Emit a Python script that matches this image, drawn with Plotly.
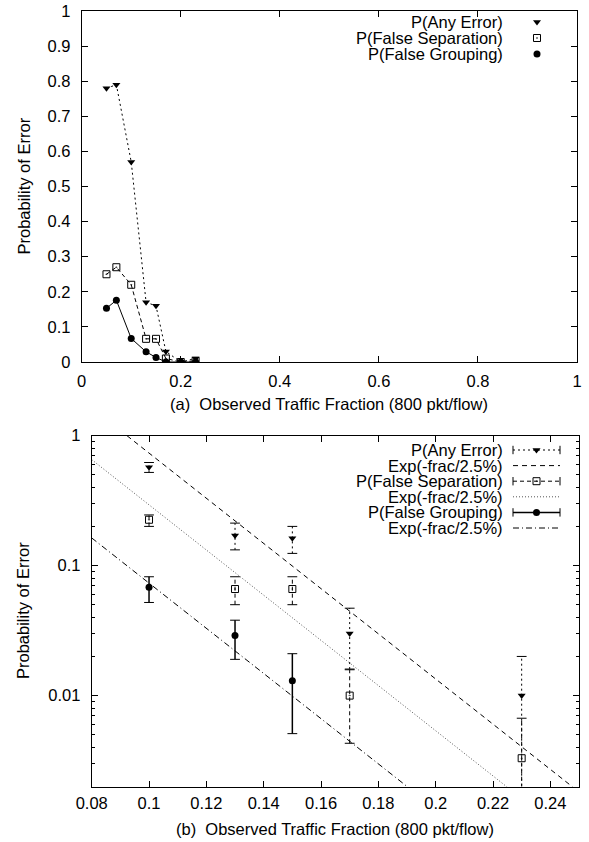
import math
import plotly.graph_objects as go

# ---------------- data: panel (a) ----------------
frac_a = [0.05, 0.07, 0.10, 0.13, 0.15, 0.17, 0.20, 0.23]
any_err_a = [0.78, 0.79, 0.57, 0.17, 0.16, 0.03, 0.0, 0.01]
false_sep_a = [0.25, 0.27, 0.22, 0.066, 0.066, 0.01, 0.0, 0.0033]
false_grp_a = [0.153, 0.176, 0.067, 0.029, 0.013, 0.0, 0.0, 0.0]

# ---------------- data: panel (b) ----------------
frac_any_b = [0.10, 0.13, 0.15, 0.17, 0.23]
any_err_b = [0.57, 0.17, 0.162, 0.03, 0.01]
any_err_lo = [0.52, 0.132, 0.124, 0.016, 0.0001]
any_err_hi = [0.62, 0.212, 0.20, 0.047, 0.02]

frac_sep_b = [0.10, 0.13, 0.15, 0.17, 0.23]
false_sep_b = [0.225, 0.066, 0.066, 0.01, 0.0033]
false_sep_lo = [0.20, 0.050, 0.050, 0.0043, 0.0001]
false_sep_hi = [0.245, 0.082, 0.082, 0.0158, 0.0067]

frac_grp_b = [0.10, 0.13, 0.15]
false_grp_b = [0.068, 0.029, 0.013]
false_grp_lo = [0.052, 0.019, 0.0051]
false_grp_hi = [0.082, 0.038, 0.021]

# exponential reference curves  A * exp(-frac / 2.5%)
fit_tau = 0.025
fit_amp_any = 40.0
fit_amp_sep = 16.0
fit_amp_grp = 4.0
fit_x = [0.08, 0.25]

legend_a = ["P(Any Error)", "P(False Separation)", "P(False Grouping)"]
legend_b = ["P(Any Error)", "Exp(-frac/2.5%)", "P(False Separation)",
            "Exp(-frac/2.5%)", "P(False Grouping)", "Exp(-frac/2.5%)"]

xlabel_a = "(a)\u00a0 Observed Traffic Fraction (800 pkt/flow)"
xlabel_b = "(b)\u00a0 Observed Traffic Fraction (800 pkt/flow)"
ylabel = "Probability of Error"

# ---------------- styling ----------------
FONT = "Liberation Sans, Arial, Helvetica, sans-serif"
FS = 16.5
W, H = 589, 842
BLACK = "black"
DOT = "2px,3px"
DASH = "4px,3px"
FIT_DASH = "5px,4px"
FIT_DOT = "1px,2px"
FIT_DASHDOT = "6px,3px,1px,3px"


def fx(p):
    """pixel -> paper fraction"""
    return p / W


def fy(p):
    return 1 - p / H


# frame positions (pixels)
A_L, A_R, A_T, A_B = 81.7, 577.0, 11.0, 362.0
B_L, B_R, B_T, B_B = 91.7, 579.0, 435.5, 786.5

fig = go.Figure()

# ---------- panel (a) ----------
fig.add_trace(go.Scatter(x=frac_a, y=any_err_a, mode="lines+markers", xaxis="x", yaxis="y",
                         line=dict(color=BLACK, width=1, dash=DOT),
                         marker=dict(symbol="triangle-down", size=7, color=BLACK),
                         showlegend=False))
fig.add_trace(go.Scatter(x=frac_a, y=false_sep_a, mode="lines+markers", xaxis="x", yaxis="y",
                         line=dict(color=BLACK, width=1, dash=DASH),
                         marker=dict(symbol="square-open-dot", size=7, color=BLACK,
                                     line=dict(width=1, color=BLACK)),
                         showlegend=False))
fig.add_trace(go.Scatter(x=frac_a, y=false_grp_a, mode="lines+markers", xaxis="x", yaxis="y",
                         line=dict(color=BLACK, width=1),
                         marker=dict(symbol="circle", size=7, color=BLACK),
                         showlegend=False))


# ---------- panel (b) ----------
def fit_curve(amp):
    return [amp * math.exp(-v / fit_tau) for v in fit_x]


fig.add_trace(go.Scatter(x=fit_x, y=fit_curve(fit_amp_any), mode="lines", xaxis="x2", yaxis="y2",
                         line=dict(color=BLACK, width=1, dash=FIT_DASH), showlegend=False))
fig.add_trace(go.Scatter(x=fit_x, y=fit_curve(fit_amp_sep), mode="lines", xaxis="x2", yaxis="y2",
                         line=dict(color="#555555", width=1, dash=FIT_DOT), showlegend=False))
fig.add_trace(go.Scatter(x=fit_x, y=fit_curve(fit_amp_grp), mode="lines", xaxis="x2", yaxis="y2",
                         line=dict(color=BLACK, width=1, dash=FIT_DASHDOT), showlegend=False))


def add_errorbars(xs, lo, hi, dash, width):
    sx, sy = [], []
    for x, a, b in zip(xs, lo, hi):
        sx += [x, x, None]
        sy += [a, b, None]
    fig.add_trace(go.Scatter(x=sx, y=sy, mode="lines", xaxis="x2", yaxis="y2",
                             line=dict(color=BLACK, width=width, dash=dash), showlegend=False))
    fig.add_trace(go.Scatter(x=list(xs) + list(xs), y=list(lo) + list(hi), mode="markers",
                             xaxis="x2", yaxis="y2",
                             marker=dict(symbol="line-ew", size=7,
                                         line=dict(width=1, color=BLACK)),
                             showlegend=False))


add_errorbars(frac_any_b, any_err_lo, any_err_hi, DOT, 1)
add_errorbars(frac_sep_b, false_sep_lo, false_sep_hi, DASH, 1)
add_errorbars(frac_grp_b, false_grp_lo, false_grp_hi, None, 1.5)

fig.add_trace(go.Scatter(x=frac_any_b, y=any_err_b, mode="markers", xaxis="x2", yaxis="y2",
                         marker=dict(symbol="triangle-down", size=7, color=BLACK), showlegend=False))
fig.add_trace(go.Scatter(x=frac_sep_b, y=false_sep_b, mode="markers", xaxis="x2", yaxis="y2",
                         marker=dict(symbol="square-open-dot", size=7, color=BLACK,
                                     line=dict(width=1, color=BLACK)), showlegend=False))
fig.add_trace(go.Scatter(x=frac_grp_b, y=false_grp_b, mode="markers", xaxis="x2", yaxis="y2",
                         marker=dict(symbol="circle", size=7, color=BLACK), showlegend=False))

# ---------- key (legend) drawn in pixel space on an overlay axis ----------
KEY_TEXT_R = 505
KEY_A_MARK = 537
KEY_A_ROWS = [22, 38, 54]
KEY_B_L, KEY_B_R = 513, 560
KEY_B_ROWS = [450 + 15.6 * i for i in range(6)]

key_a_markers = [dict(symbol="triangle-down", size=7, color=BLACK),
                 dict(symbol="square-open-dot", size=7, color=BLACK, line=dict(width=1, color=BLACK)),
                 dict(symbol="circle", size=7, color=BLACK)]
for row, mk in zip(KEY_A_ROWS, key_a_markers):
    fig.add_trace(go.Scatter(x=[KEY_A_MARK], y=[row], mode="markers", xaxis="x3", yaxis="y3",
                             marker=mk, showlegend=False, cliponaxis=False))

key_b_styles = [
    (dict(color=BLACK, width=1, dash=DOT), key_a_markers[0], True),
    (dict(color=BLACK, width=1, dash=FIT_DASH), None, False),
    (dict(color=BLACK, width=1, dash=DASH), key_a_markers[1], True),
    (dict(color="#555555", width=1, dash=FIT_DOT), None, False),
    (dict(color=BLACK, width=1.5), key_a_markers[2], True),
    (dict(color=BLACK, width=1, dash=FIT_DASHDOT), None, False),
]
for row, (ln, mk, caps) in zip(KEY_B_ROWS, key_b_styles):
    fig.add_trace(go.Scatter(x=[KEY_B_L, KEY_B_R], y=[row, row], mode="lines", xaxis="x3", yaxis="y3",
                             line=ln, showlegend=False, cliponaxis=False))
    if caps:
        fig.add_trace(go.Scatter(x=[KEY_B_L, KEY_B_R], y=[row, row], mode="markers", xaxis="x3",
                                 yaxis="y3", showlegend=False, cliponaxis=False,
                                 marker=dict(symbol="line-ns", size=6, line=dict(width=1, color=BLACK))))
    if mk is not None:
        fig.add_trace(go.Scatter(x=[(KEY_B_L + KEY_B_R) / 2], y=[row], mode="markers", xaxis="x3",
                                 yaxis="y3", marker=mk, showlegend=False, cliponaxis=False))

TXT = dict(family=FONT, size=FS, color=BLACK)
annotations = []
for row, txt in zip(KEY_A_ROWS, legend_a):
    annotations.append(dict(x=fx(KEY_TEXT_R), y=fy(row), xref="paper", yref="paper", text=txt,
                            showarrow=False, xanchor="right", yanchor="middle", font=TXT))
for row, txt in zip(KEY_B_ROWS, legend_b):
    annotations.append(dict(x=fx(KEY_TEXT_R), y=fy(row), xref="paper", yref="paper", text=txt,
                            showarrow=False, xanchor="right", yanchor="middle", font=TXT))

# axis titles
annotations += [
    dict(x=fx(23), y=fy((A_T + A_B) / 2), xref="paper", yref="paper", text=ylabel, textangle=-90,
         showarrow=False, xanchor="center", yanchor="middle", font=TXT),
    dict(x=fx(23), y=fy((B_T + B_B) / 2), xref="paper", yref="paper", text=ylabel, textangle=-90,
         showarrow=False, xanchor="center", yanchor="middle", font=TXT),
    dict(x=fx((A_L + A_R) / 2), y=fy(404), xref="paper", yref="paper", text=xlabel_a,
         showarrow=False, xanchor="center", yanchor="middle", font=TXT),
    dict(x=fx((B_L + B_R) / 2), y=fy(829), xref="paper", yref="paper", text=xlabel_b,
         showarrow=False, xanchor="center", yanchor="middle", font=TXT),
]

ax_common = dict(showline=True, linecolor=BLACK, linewidth=1, mirror="allticks",
                 ticks="inside", ticklen=6, tickcolor=BLACK, tickwidth=1,
                 showgrid=False, zeroline=False, automargin=False,
                 ticklabeloverflow="allow", tickfont=TXT)

minor_vals = [k * 10.0 ** e for e in (-3, -2, -1) for k in range(2, 10)]

fig.update_layout(
    template="none",
    width=W, height=H,
    margin=dict(l=0, r=0, t=0, b=0, pad=0),
    paper_bgcolor="white", plot_bgcolor="rgba(0,0,0,0)",
    showlegend=False,
    annotations=annotations,
    xaxis=dict(domain=[fx(A_L), fx(A_R)], range=[0, 1], tick0=0, dtick=0.2, anchor="y",
               ticklabelstandoff=4, **ax_common),
    yaxis=dict(domain=[fy(A_B), fy(A_T)], range=[0, 1], tick0=0, dtick=0.1, anchor="x",
               ticklabelstandoff=7, **ax_common),
    xaxis2=dict(domain=[fx(B_L), fx(B_R)], range=[0.08, 0.25], tick0=0.08, dtick=0.02, anchor="y2",
                ticklabelstandoff=2, **ax_common),
    yaxis2=dict(domain=[fy(B_B), fy(B_T)], type="log", range=[math.log10(0.002), 0], anchor="x2",
                tickvals=[0.01, 0.1, 1], ticktext=["0.01", "0.1", "1"], ticklabelstandoff=7,
                minor=dict(ticks="inside", ticklen=3, tickcolor=BLACK, tickvals=minor_vals, showgrid=False),
                **ax_common),
    xaxis3=dict(domain=[0, 1], range=[0, W], visible=False, anchor="y3", fixedrange=True,
                automargin=False),
    yaxis3=dict(domain=[0, 1], range=[H, 0], visible=False, anchor="x3", fixedrange=True,
                automargin=False),
)

# the page's default 8px body margin would shift the figure; remove it.  Static figure: no modebar.
fig.write_html("out.html", config={"staticPlot": True, "displayModeBar": False},
               post_script="document.body.style.margin='0px';")
